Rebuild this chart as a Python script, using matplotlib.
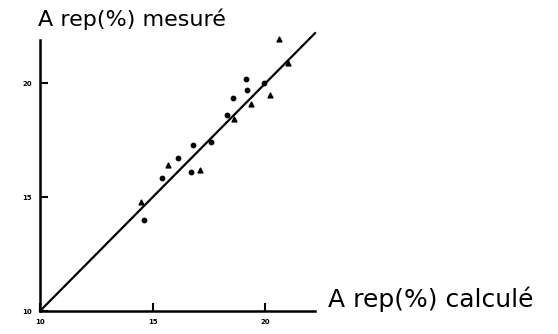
import matplotlib.pyplot as plt
import numpy as np

# points (x = calculé, y = mesuré)
dots_x = [14.6, 15.4, 16.1, 16.8, 16.7, 17.6, 18.3, 18.55, 19.15, 19.2, 19.95]
dots_y = [14.0, 15.85, 16.7, 17.3, 16.1, 17.4, 18.6, 19.35, 20.2, 19.7, 20.0]
tri_x = [14.5, 15.7, 17.1, 18.6, 19.35, 20.2, 21.0, 20.6]
tri_y = [14.8, 16.4, 16.2, 18.45, 19.1, 19.5, 20.9, 21.95]
line_ends = [10, 22.2]
ticks = [10, 15, 20]

fig = plt.figure(figsize=(5.58, 3.34), dpi=100)
ax = fig.add_axes([40 / 558, 23 / 334, 275 / 558, 271 / 334])

ax.plot(line_ends, line_ends, color='black', lw=1.6, clip_on=False)
ax.scatter(dots_x, dots_y, s=10, color='black', marker='o', clip_on=False, zorder=3)
ax.scatter(tri_x, tri_y, s=12, color='black', marker='^', clip_on=False, zorder=3)

ax.set_xlim(10, 22.2)
ax.set_ylim(10, 21.9)
for s in ['top', 'right']:
    ax.spines[s].set_visible(False)
for s in ['left', 'bottom']:
    ax.spines[s].set_linewidth(1.8)

ax.set_xticks(ticks)
ax.set_yticks(ticks)
ax.set_xticklabels([str(t) for t in ticks], fontsize=5, fontweight='bold')
ax.set_yticklabels([str(t) for t in ticks], fontsize=5, fontweight='bold')
ax.tick_params(direction='in', length=6, width=1.5, pad=6)

fig.text(38 / 558, 1 - 19 / 334, 'A rep(%) mesuré', fontsize=16, va='center', ha='left')
fig.text(328 / 558, 1 - 299 / 334, 'A rep(%) calculé', fontsize=18, va='center', ha='left')

fig.savefig('out.png', dpi=100)
